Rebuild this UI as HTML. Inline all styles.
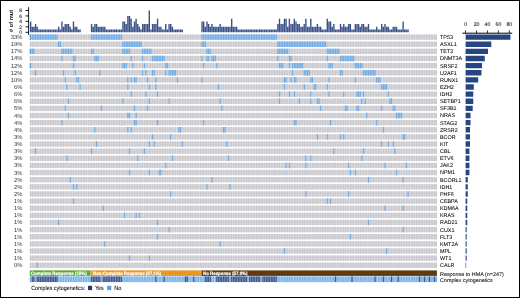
<!DOCTYPE html>
<html><head><meta charset="utf-8"><style>
html,body{margin:0;padding:0;background:#fff;}
body{width:520px;height:298px;overflow:hidden;}
svg{display:block;}
</style></head><body>
<svg width="520" height="298" viewBox="0 0 520 298" font-family="'Liberation Sans', Arial, sans-serif" text-rendering="geometricPrecision">
<rect x="0" y="0" width="520" height="298" fill="#fff"/>
<path d="M29.93 32.3h1.39v-10.92h-1.39zM31.58 32.3h1.39v-5.46h-1.39zM33.23 32.3h1.39v-5.46h-1.39zM34.87 32.3h1.39v-8.19h-1.39zM36.52 32.3h1.39v-5.46h-1.39zM38.17 32.3h1.39v-2.73h-1.39zM39.82 32.3h1.39v-2.73h-1.39zM41.47 32.3h1.39v-2.73h-1.39zM43.12 32.3h1.39v-2.73h-1.39zM44.76 32.3h1.39v-2.73h-1.39zM46.41 32.3h1.39v-2.73h-1.39zM48.06 32.3h1.39v-2.73h-1.39zM49.71 32.3h1.39v-2.73h-1.39zM51.36 32.3h1.39v-2.73h-1.39zM53 32.3h1.39v-2.73h-1.39zM54.65 32.3h1.39v-2.73h-1.39zM56.3 32.3h1.39v-2.73h-1.39zM57.95 32.3h1.39v-5.46h-1.39zM59.6 32.3h1.39v-2.73h-1.39zM61.25 32.3h1.39v-10.92h-1.39zM62.89 32.3h1.39v-5.46h-1.39zM64.54 32.3h1.39v-8.19h-1.39zM66.19 32.3h1.39v-8.19h-1.39zM67.84 32.3h1.39v-8.19h-1.39zM69.49 32.3h1.39v-5.46h-1.39zM71.13 32.3h1.39v-2.73h-1.39zM72.78 32.3h1.39v-10.92h-1.39zM74.43 32.3h1.39v-5.46h-1.39zM76.08 32.3h1.39v-5.46h-1.39zM77.73 32.3h1.39v-2.73h-1.39zM79.38 32.3h1.39v-2.73h-1.39zM90.91 32.3h1.39v-8.19h-1.39zM92.56 32.3h1.39v-5.46h-1.39zM94.21 32.3h1.39v-8.19h-1.39zM95.86 32.3h1.39v-8.19h-1.39zM97.51 32.3h1.39v-5.46h-1.39zM99.15 32.3h1.39v-5.46h-1.39zM100.8 32.3h1.39v-5.46h-1.39zM102.45 32.3h1.39v-5.46h-1.39zM104.1 32.3h1.39v-5.46h-1.39zM105.75 32.3h1.39v-2.73h-1.39zM107.39 32.3h1.39v-2.73h-1.39zM109.04 32.3h1.39v-2.73h-1.39zM110.69 32.3h1.39v-2.73h-1.39zM112.34 32.3h1.39v-2.73h-1.39zM113.99 32.3h1.39v-2.73h-1.39zM115.64 32.3h1.39v-2.73h-1.39zM117.28 32.3h1.39v-2.73h-1.39zM118.93 32.3h1.39v-2.73h-1.39zM120.58 32.3h1.39v-2.73h-1.39zM122.23 32.3h1.39v-10.92h-1.39zM123.88 32.3h1.39v-10.92h-1.39zM125.52 32.3h1.39v-8.19h-1.39zM127.17 32.3h1.39v-16.38h-1.39zM128.82 32.3h1.39v-16.38h-1.39zM130.47 32.3h1.39v-13.65h-1.39zM132.12 32.3h1.39v-5.46h-1.39zM133.77 32.3h1.39v-10.92h-1.39zM135.41 32.3h1.39v-13.65h-1.39zM137.06 32.3h1.39v-8.19h-1.39zM138.71 32.3h1.39v-5.46h-1.39zM140.36 32.3h1.39v-2.73h-1.39zM142.01 32.3h1.39v-8.19h-1.39zM143.65 32.3h1.39v-8.19h-1.39zM145.3 32.3h1.39v-8.19h-1.39zM146.95 32.3h1.39v-8.19h-1.39zM148.6 32.3h1.39v-21.84h-1.39zM150.25 32.3h1.39v-2.73h-1.39zM151.9 32.3h1.39v-8.19h-1.39zM153.54 32.3h1.39v-8.19h-1.39zM155.19 32.3h1.39v-8.19h-1.39zM156.84 32.3h1.39v-13.65h-1.39zM158.49 32.3h1.39v-5.46h-1.39zM160.14 32.3h1.39v-5.46h-1.39zM161.78 32.3h1.39v-2.73h-1.39zM163.43 32.3h1.39v-2.73h-1.39zM165.08 32.3h1.39v-8.19h-1.39zM166.73 32.3h1.39v-2.73h-1.39zM168.38 32.3h1.39v-8.19h-1.39zM170.03 32.3h1.39v-8.19h-1.39zM171.67 32.3h1.39v-5.46h-1.39zM173.32 32.3h1.39v-2.73h-1.39zM174.97 32.3h1.39v-2.73h-1.39zM176.62 32.3h1.39v-2.73h-1.39zM178.27 32.3h1.39v-2.73h-1.39zM179.91 32.3h1.39v-2.73h-1.39zM181.56 32.3h1.39v-2.73h-1.39zM201.34 32.3h1.39v-10.92h-1.39zM202.99 32.3h1.39v-10.92h-1.39zM204.64 32.3h1.39v-5.46h-1.39zM206.29 32.3h1.39v-10.92h-1.39zM207.93 32.3h1.39v-8.19h-1.39zM209.58 32.3h1.39v-5.46h-1.39zM211.23 32.3h1.39v-8.19h-1.39zM212.88 32.3h1.39v-5.46h-1.39zM214.53 32.3h1.39v-5.46h-1.39zM216.17 32.3h1.39v-5.46h-1.39zM217.82 32.3h1.39v-5.46h-1.39zM219.47 32.3h1.39v-8.19h-1.39zM221.12 32.3h1.39v-5.46h-1.39zM222.77 32.3h1.39v-5.46h-1.39zM224.42 32.3h1.39v-5.46h-1.39zM226.06 32.3h1.39v-5.46h-1.39zM227.71 32.3h1.39v-5.46h-1.39zM229.36 32.3h1.39v-5.46h-1.39zM231.01 32.3h1.39v-13.65h-1.39zM232.66 32.3h1.39v-5.46h-1.39zM234.3 32.3h1.39v-5.46h-1.39zM235.95 32.3h1.39v-5.46h-1.39zM237.6 32.3h1.39v-2.73h-1.39zM239.25 32.3h1.39v-2.73h-1.39zM240.9 32.3h1.39v-2.73h-1.39zM242.54 32.3h1.39v-2.73h-1.39zM244.19 32.3h1.39v-2.73h-1.39zM245.84 32.3h1.39v-2.73h-1.39zM247.49 32.3h1.39v-2.73h-1.39zM249.14 32.3h1.39v-2.73h-1.39zM250.79 32.3h1.39v-2.73h-1.39zM252.43 32.3h1.39v-2.73h-1.39zM254.08 32.3h1.39v-2.73h-1.39zM255.73 32.3h1.39v-2.73h-1.39zM257.38 32.3h1.39v-2.73h-1.39zM259.03 32.3h1.39v-2.73h-1.39zM260.67 32.3h1.39v-2.73h-1.39zM262.32 32.3h1.39v-2.73h-1.39zM263.97 32.3h1.39v-2.73h-1.39zM265.62 32.3h1.39v-2.73h-1.39zM267.27 32.3h1.39v-2.73h-1.39zM268.92 32.3h1.39v-2.73h-1.39zM270.56 32.3h1.39v-2.73h-1.39zM272.21 32.3h1.39v-2.73h-1.39zM273.86 32.3h1.39v-2.73h-1.39zM275.51 32.3h1.39v-2.73h-1.39zM277.16 32.3h1.39v-8.19h-1.39zM278.8 32.3h1.39v-13.65h-1.39zM280.45 32.3h1.39v-8.19h-1.39zM282.1 32.3h1.39v-8.19h-1.39zM283.75 32.3h1.39v-13.65h-1.39zM285.4 32.3h1.39v-13.65h-1.39zM287.05 32.3h1.39v-5.46h-1.39zM288.69 32.3h1.39v-13.65h-1.39zM290.34 32.3h1.39v-8.19h-1.39zM291.99 32.3h1.39v-8.19h-1.39zM293.64 32.3h1.39v-13.65h-1.39zM295.29 32.3h1.39v-10.92h-1.39zM296.93 32.3h1.39v-8.19h-1.39zM298.58 32.3h1.39v-8.19h-1.39zM300.23 32.3h1.39v-5.46h-1.39zM301.88 32.3h1.39v-5.46h-1.39zM303.53 32.3h1.39v-8.19h-1.39zM305.18 32.3h1.39v-13.65h-1.39zM306.82 32.3h1.39v-5.46h-1.39zM308.47 32.3h1.39v-5.46h-1.39zM310.12 32.3h1.39v-13.65h-1.39zM311.77 32.3h1.39v-5.46h-1.39zM313.42 32.3h1.39v-5.46h-1.39zM315.06 32.3h1.39v-5.46h-1.39zM316.71 32.3h1.39v-8.19h-1.39zM318.36 32.3h1.39v-5.46h-1.39zM320.01 32.3h1.39v-5.46h-1.39zM321.66 32.3h1.39v-2.73h-1.39zM323.31 32.3h1.39v-2.73h-1.39zM324.95 32.3h1.39v-2.73h-1.39zM326.6 32.3h1.39v-13.65h-1.39zM328.25 32.3h1.39v-10.92h-1.39zM329.9 32.3h1.39v-10.92h-1.39zM331.55 32.3h1.39v-5.46h-1.39zM333.19 32.3h1.39v-8.19h-1.39zM334.84 32.3h1.39v-2.73h-1.39zM336.49 32.3h1.39v-2.73h-1.39zM338.14 32.3h1.39v-2.73h-1.39zM339.79 32.3h1.39v-8.19h-1.39zM341.44 32.3h1.39v-5.46h-1.39zM343.08 32.3h1.39v-8.19h-1.39zM344.73 32.3h1.39v-5.46h-1.39zM346.38 32.3h1.39v-5.46h-1.39zM348.03 32.3h1.39v-8.19h-1.39zM349.68 32.3h1.39v-8.19h-1.39zM351.32 32.3h1.39v-2.73h-1.39zM352.97 32.3h1.39v-2.73h-1.39zM354.62 32.3h1.39v-8.19h-1.39zM356.27 32.3h1.39v-8.19h-1.39zM357.92 32.3h1.39v-8.19h-1.39zM359.57 32.3h1.39v-5.46h-1.39zM361.21 32.3h1.39v-8.19h-1.39zM362.86 32.3h1.39v-8.19h-1.39zM364.51 32.3h1.39v-5.46h-1.39zM366.16 32.3h1.39v-5.46h-1.39zM367.81 32.3h1.39v-8.19h-1.39zM369.45 32.3h1.39v-2.73h-1.39zM371.1 32.3h1.39v-2.73h-1.39zM372.75 32.3h1.39v-2.73h-1.39zM374.4 32.3h1.39v-2.73h-1.39zM376.05 32.3h1.39v-5.46h-1.39zM377.7 32.3h1.39v-2.73h-1.39zM379.34 32.3h1.39v-2.73h-1.39zM380.99 32.3h1.39v-8.19h-1.39zM382.64 32.3h1.39v-5.46h-1.39zM384.29 32.3h1.39v-8.19h-1.39zM385.94 32.3h1.39v-5.46h-1.39zM387.58 32.3h1.39v-5.46h-1.39zM389.23 32.3h1.39v-2.73h-1.39zM390.88 32.3h1.39v-2.73h-1.39zM392.53 32.3h1.39v-5.46h-1.39zM394.18 32.3h1.39v-5.46h-1.39zM395.83 32.3h1.39v-5.46h-1.39zM397.47 32.3h1.39v-2.73h-1.39zM399.12 32.3h1.39v-2.73h-1.39zM400.77 32.3h1.39v-2.73h-1.39zM402.42 32.3h1.39v-10.92h-1.39zM404.07 32.3h1.39v-2.73h-1.39zM405.71 32.3h1.39v-2.73h-1.39zM407.36 32.3h1.39v-2.73h-1.39z" fill="#3a5287"/>
<path d="M28.6 7.2V35M25.5 32.3H28.6M25.5 26.84H28.6M25.5 21.38H28.6M25.5 15.92H28.6M25.5 10.46H28.6" stroke="#000" stroke-width="0.9" fill="none"/>
<text x="22" y="34.1" font-size="5" text-anchor="end" fill="#000" stroke="#000" stroke-width="0.05">0</text>
<text x="22" y="28.64" font-size="5" text-anchor="end" fill="#000" stroke="#000" stroke-width="0.05">2</text>
<text x="22" y="23.18" font-size="5" text-anchor="end" fill="#000" stroke="#000" stroke-width="0.05">4</text>
<text x="22" y="17.72" font-size="5" text-anchor="end" fill="#000" stroke="#000" stroke-width="0.05">6</text>
<text x="22" y="12.26" font-size="5" text-anchor="end" fill="#000" stroke="#000" stroke-width="0.05">8</text>
<text x="0" y="0" transform="translate(13.3 21) rotate(-90)" font-size="5.7" font-weight="bold" text-anchor="middle" fill="#222"># of mut</text>
<rect x="29.8" y="34.4" width="407.1" height="5.4" fill="#c2c1c8"/>
<rect x="29.8" y="41.53" width="407.1" height="5.4" fill="#c2c1c8"/>
<rect x="29.8" y="48.66" width="407.1" height="5.4" fill="#c2c1c8"/>
<rect x="29.8" y="55.79" width="407.1" height="5.4" fill="#c2c1c8"/>
<rect x="29.8" y="62.92" width="407.1" height="5.4" fill="#c2c1c8"/>
<rect x="29.8" y="70.05" width="407.1" height="5.4" fill="#c2c1c8"/>
<rect x="29.8" y="77.18" width="407.1" height="5.4" fill="#c2c1c8"/>
<rect x="29.8" y="84.31" width="407.1" height="5.4" fill="#c2c1c8"/>
<rect x="29.8" y="91.44" width="407.1" height="5.4" fill="#c2c1c8"/>
<rect x="29.8" y="98.57" width="407.1" height="5.4" fill="#c2c1c8"/>
<rect x="29.8" y="105.7" width="407.1" height="5.4" fill="#c2c1c8"/>
<rect x="29.8" y="112.83" width="407.1" height="5.4" fill="#c2c1c8"/>
<rect x="29.8" y="119.96" width="407.1" height="5.4" fill="#c2c1c8"/>
<rect x="29.8" y="127.09" width="407.1" height="5.4" fill="#c2c1c8"/>
<rect x="29.8" y="134.22" width="407.1" height="5.4" fill="#c2c1c8"/>
<rect x="29.8" y="141.35" width="407.1" height="5.4" fill="#c2c1c8"/>
<rect x="29.8" y="148.48" width="407.1" height="5.4" fill="#c2c1c8"/>
<rect x="29.8" y="155.61" width="407.1" height="5.4" fill="#c2c1c8"/>
<rect x="29.8" y="162.74" width="407.1" height="5.4" fill="#c2c1c8"/>
<rect x="29.8" y="169.87" width="407.1" height="5.4" fill="#c2c1c8"/>
<rect x="29.8" y="177" width="407.1" height="5.4" fill="#c2c1c8"/>
<rect x="29.8" y="184.13" width="407.1" height="5.4" fill="#c2c1c8"/>
<rect x="29.8" y="191.26" width="407.1" height="5.4" fill="#c2c1c8"/>
<rect x="29.8" y="198.39" width="407.1" height="5.4" fill="#c2c1c8"/>
<rect x="29.8" y="205.52" width="407.1" height="5.4" fill="#c2c1c8"/>
<rect x="29.8" y="212.65" width="407.1" height="5.4" fill="#c2c1c8"/>
<rect x="29.8" y="219.78" width="407.1" height="5.4" fill="#c2c1c8"/>
<rect x="29.8" y="226.91" width="407.1" height="5.4" fill="#c2c1c8"/>
<rect x="29.8" y="234.04" width="407.1" height="5.4" fill="#c2c1c8"/>
<rect x="29.8" y="241.17" width="407.1" height="5.4" fill="#c2c1c8"/>
<rect x="29.8" y="248.3" width="407.1" height="5.4" fill="#c2c1c8"/>
<rect x="29.8" y="255.43" width="407.1" height="5.4" fill="#c2c1c8"/>
<rect x="29.8" y="262.56" width="407.1" height="5.4" fill="#c2c1c8"/>
<path d="M29.8 34.4h28.02v5.4h-28.02zM90.78 34.4h31.32v5.4h-31.32zM201.21 34.4h75.82v5.4h-75.82zM57.82 41.53h3.3v5.4h-3.3zM122.1 41.53h19.78v5.4h-19.78zM201.21 41.53h4.94v5.4h-4.94zM277.03 41.53h49.45v5.4h-49.45zM29.8 48.66h4.94v5.4h-4.94zM61.12 48.66h11.54v5.4h-11.54zM90.78 48.66h3.3v5.4h-3.3zM122.1 48.66h8.24v5.4h-8.24zM141.88 48.66h9.89v5.4h-9.89zM206.16 48.66h4.94v5.4h-4.94zM277.03 48.66h11.54v5.4h-11.54zM326.47 48.66h13.19v5.4h-13.19zM61.12 55.79h1.65v5.4h-1.65zM72.65 55.79h3.3v5.4h-3.3zM94.08 55.79h4.94v5.4h-4.94zM130.34 55.79h1.65v5.4h-1.65zM141.88 55.79h1.65v5.4h-1.65zM151.77 55.79h13.19v5.4h-13.19zM201.21 55.79h1.65v5.4h-1.65zM206.16 55.79h3.3v5.4h-3.3zM211.1 55.79h4.94v5.4h-4.94zM277.03 55.79h1.65v5.4h-1.65zM288.56 55.79h3.3v5.4h-3.3zM326.47 55.79h1.65v5.4h-1.65zM339.66 55.79h14.83v5.4h-14.83zM29.8 62.92h1.65v5.4h-1.65zM72.65 62.92h1.65v5.4h-1.65zM122.1 62.92h4.94v5.4h-4.94zM131.99 62.92h1.65v5.4h-1.65zM143.52 62.92h1.65v5.4h-1.65zM164.95 62.92h3.3v5.4h-3.3zM202.86 62.92h1.65v5.4h-1.65zM216.04 62.92h1.65v5.4h-1.65zM278.67 62.92h4.94v5.4h-4.94zM288.56 62.92h1.65v5.4h-1.65zM291.86 62.92h11.54v5.4h-11.54zM328.12 62.92h4.94v5.4h-4.94zM354.49 62.92h8.24v5.4h-8.24zM34.74 70.05h1.65v5.4h-1.65zM62.76 70.05h1.65v5.4h-1.65zM74.3 70.05h1.65v5.4h-1.65zM99.02 70.05h1.65v5.4h-1.65zM141.88 70.05h1.65v5.4h-1.65zM145.17 70.05h1.65v5.4h-1.65zM151.77 70.05h3.3v5.4h-3.3zM164.95 70.05h1.65v5.4h-1.65zM168.25 70.05h8.24v5.4h-8.24zM291.86 70.05h1.65v5.4h-1.65zM303.4 70.05h6.59v5.4h-6.59zM339.66 70.05h3.3v5.4h-3.3zM362.73 70.05h13.19v5.4h-13.19zM64.41 77.18h1.65v5.4h-1.65zM75.95 77.18h3.3v5.4h-3.3zM127.04 77.18h1.65v5.4h-1.65zM130.34 77.18h1.65v5.4h-1.65zM133.64 77.18h3.3v5.4h-3.3zM146.82 77.18h1.65v5.4h-1.65zM155.06 77.18h1.65v5.4h-1.65zM176.49 77.18h1.65v5.4h-1.65zM201.21 77.18h1.65v5.4h-1.65zM283.62 77.18h3.3v5.4h-3.3zM290.21 77.18h1.65v5.4h-1.65zM293.51 77.18h3.3v5.4h-3.3zM309.99 77.18h3.3v5.4h-3.3zM328.12 77.18h1.65v5.4h-1.65zM354.49 77.18h1.65v5.4h-1.65zM375.92 77.18h4.94v5.4h-4.94zM66.06 84.31h1.65v5.4h-1.65zM79.25 84.31h1.65v5.4h-1.65zM127.04 84.31h1.65v5.4h-1.65zM148.47 84.31h1.65v5.4h-1.65zM155.06 84.31h1.65v5.4h-1.65zM217.69 84.31h1.65v5.4h-1.65zM283.62 84.31h1.65v5.4h-1.65zM303.4 84.31h1.65v5.4h-1.65zM313.29 84.31h3.3v5.4h-3.3zM326.47 84.31h1.65v5.4h-1.65zM380.86 84.31h6.59v5.4h-6.59zM130.34 91.44h1.65v5.4h-1.65zM145.17 91.44h1.65v5.4h-1.65zM156.71 91.44h1.65v5.4h-1.65zM278.67 91.44h1.65v5.4h-1.65zM288.56 91.44h1.65v5.4h-1.65zM293.51 91.44h1.65v5.4h-1.65zM309.99 91.44h1.65v5.4h-1.65zM328.12 91.44h1.65v5.4h-1.65zM342.95 91.44h1.65v5.4h-1.65zM356.14 91.44h4.94v5.4h-4.94zM362.73 91.44h1.65v5.4h-1.65zM387.45 91.44h1.65v5.4h-1.65zM67.71 98.57h1.65v5.4h-1.65zM122.1 98.57h1.65v5.4h-1.65zM148.47 98.57h1.65v5.4h-1.65zM168.25 98.57h1.65v5.4h-1.65zM219.34 98.57h1.65v5.4h-1.65zM278.67 98.57h1.65v5.4h-1.65zM298.45 98.57h1.65v5.4h-1.65zM309.99 98.57h1.65v5.4h-1.65zM316.58 98.57h3.3v5.4h-3.3zM361.08 98.57h1.65v5.4h-1.65zM364.38 98.57h1.65v5.4h-1.65zM389.1 98.57h3.3v5.4h-3.3zM64.41 105.7h1.65v5.4h-1.65zM100.67 105.7h1.65v5.4h-1.65zM133.64 105.7h1.65v5.4h-1.65zM146.82 105.7h1.65v5.4h-1.65zM220.99 105.7h1.65v5.4h-1.65zM319.88 105.7h1.65v5.4h-1.65zM344.6 105.7h3.3v5.4h-3.3zM356.14 105.7h3.3v5.4h-3.3zM380.86 105.7h1.65v5.4h-1.65zM392.4 105.7h3.3v5.4h-3.3zM67.71 112.83h1.65v5.4h-1.65zM127.04 112.83h3.3v5.4h-3.3zM135.28 112.83h1.65v5.4h-1.65zM366.03 112.83h1.65v5.4h-1.65zM395.7 112.83h6.59v5.4h-6.59zM61.12 119.96h1.65v5.4h-1.65zM133.64 119.96h3.3v5.4h-3.3zM156.71 119.96h1.65v5.4h-1.65zM202.86 119.96h1.65v5.4h-1.65zM293.51 119.96h3.3v5.4h-3.3zM329.77 119.96h1.65v5.4h-1.65zM375.92 119.96h1.65v5.4h-1.65zM94.08 127.09h1.65v5.4h-1.65zM127.04 127.09h1.65v5.4h-1.65zM130.34 127.09h1.65v5.4h-1.65zM178.14 127.09h3.3v5.4h-3.3zM222.64 127.09h3.3v5.4h-3.3zM382.51 127.09h1.65v5.4h-1.65zM151.77 134.22h1.65v5.4h-1.65zM169.9 134.22h1.65v5.4h-1.65zM316.58 134.22h1.65v5.4h-1.65zM326.47 134.22h1.65v5.4h-1.65zM339.66 134.22h1.65v5.4h-1.65zM342.95 134.22h1.65v5.4h-1.65zM402.29 134.22h3.3v5.4h-3.3zM95.73 141.35h1.65v5.4h-1.65zM148.47 141.35h1.65v5.4h-1.65zM153.41 141.35h1.65v5.4h-1.65zM181.43 141.35h1.65v5.4h-1.65zM225.93 141.35h1.65v5.4h-1.65zM380.86 141.35h1.65v5.4h-1.65zM387.45 141.35h1.65v5.4h-1.65zM392.4 141.35h1.65v5.4h-1.65zM34.74 148.48h1.65v5.4h-1.65zM90.78 148.48h1.65v5.4h-1.65zM128.69 148.48h1.65v5.4h-1.65zM143.52 148.48h1.65v5.4h-1.65zM333.06 148.48h1.65v5.4h-1.65zM362.73 148.48h1.65v5.4h-1.65zM394.05 148.48h1.65v5.4h-1.65zM66.06 155.61h1.65v5.4h-1.65zM136.93 155.61h1.65v5.4h-1.65zM171.54 155.61h1.65v5.4h-1.65zM227.58 155.61h1.65v5.4h-1.65zM305.05 155.61h1.65v5.4h-1.65zM309.99 155.61h1.65v5.4h-1.65zM361.08 155.61h1.65v5.4h-1.65zM164.95 162.74h1.65v5.4h-1.65zM285.27 162.74h1.65v5.4h-1.65zM288.56 162.74h1.65v5.4h-1.65zM305.05 162.74h1.65v5.4h-1.65zM347.9 162.74h1.65v5.4h-1.65zM384.16 162.74h1.65v5.4h-1.65zM405.58 162.74h1.65v5.4h-1.65zM128.69 169.87h1.65v5.4h-1.65zM148.47 169.87h1.65v5.4h-1.65zM158.36 169.87h3.3v5.4h-3.3zM349.55 169.87h1.65v5.4h-1.65zM354.49 169.87h1.65v5.4h-1.65zM395.7 169.87h1.65v5.4h-1.65zM69.36 177h1.65v5.4h-1.65zM211.1 177h1.65v5.4h-1.65zM367.68 177h1.65v5.4h-1.65zM402.29 177h1.65v5.4h-1.65zM72.65 184.13h1.65v5.4h-1.65zM75.95 184.13h1.65v5.4h-1.65zM206.16 184.13h1.65v5.4h-1.65zM229.23 184.13h1.65v5.4h-1.65zM169.9 191.26h1.65v5.4h-1.65zM305.05 191.26h1.65v5.4h-1.65zM347.9 191.26h1.65v5.4h-1.65zM407.23 191.26h1.65v5.4h-1.65zM72.65 198.39h1.65v5.4h-1.65zM326.47 198.39h1.65v5.4h-1.65zM329.77 198.39h1.65v5.4h-1.65zM102.32 205.52h1.65v5.4h-1.65zM384.16 205.52h1.65v5.4h-1.65zM402.29 205.52h1.65v5.4h-1.65zM123.75 212.65h1.65v5.4h-1.65zM135.28 212.65h1.65v5.4h-1.65zM138.58 212.65h1.65v5.4h-1.65zM57.82 219.78h1.65v5.4h-1.65zM156.71 219.78h1.65v5.4h-1.65zM367.68 219.78h1.65v5.4h-1.65zM168.25 226.91h1.65v5.4h-1.65zM402.29 226.91h1.65v5.4h-1.65zM156.71 234.04h1.65v5.4h-1.65zM349.55 234.04h1.65v5.4h-1.65zM103.97 241.17h1.65v5.4h-1.65zM219.34 241.17h1.65v5.4h-1.65zM283.62 248.3h1.65v5.4h-1.65zM385.81 248.3h1.65v5.4h-1.65zM128.69 255.43h1.65v5.4h-1.65zM148.47 255.43h1.65v5.4h-1.65zM36.39 262.56h1.65v5.4h-1.65z" fill="#5c9fe0"/>
<rect x="29.8" y="276.4" width="407.1" height="5.7" fill="#66a8e6"/>
<path d="M31.45 276.4h3.3v5.7h-3.3zM36.39 276.4h21.43v5.7h-21.43zM90.78 276.4h9.89v5.7h-9.89zM102.32 276.4h19.78v5.7h-19.78zM155.06 276.4h1.65v5.7h-1.65zM163.3 276.4h1.65v5.7h-1.65zM184.73 276.4h3.3v5.7h-3.3zM192.97 276.4h1.65v5.7h-1.65zM204.51 276.4h6.59v5.7h-6.59zM216.04 276.4h13.19v5.7h-13.19zM230.88 276.4h16.48v5.7h-16.48zM249.01 276.4h11.54v5.7h-11.54zM262.19 276.4h14.83v5.7h-14.83zM334.71 276.4h1.65v5.7h-1.65zM351.19 276.4h1.65v5.7h-1.65zM374.27 276.4h1.65v5.7h-1.65zM382.51 276.4h1.65v5.7h-1.65zM390.75 276.4h1.65v5.7h-1.65zM397.34 276.4h1.65v5.7h-1.65zM418.77 276.4h1.65v5.7h-1.65zM423.71 276.4h1.65v5.7h-1.65zM428.66 276.4h1.65v5.7h-1.65zM433.6 276.4h1.65v5.7h-1.65z" fill="#233f7a"/>
<path d="M31.45 34V282.1M33.1 34V282.1M34.74 34V282.1M36.39 34V282.1M38.04 34V282.1M39.69 34V282.1M41.34 34V282.1M42.99 34V282.1M44.63 34V282.1M46.28 34V282.1M47.93 34V282.1M49.58 34V282.1M51.23 34V282.1M52.87 34V282.1M54.52 34V282.1M56.17 34V282.1M57.82 34V282.1M59.47 34V282.1M61.12 34V282.1M62.76 34V282.1M64.41 34V282.1M66.06 34V282.1M67.71 34V282.1M69.36 34V282.1M71 34V282.1M72.65 34V282.1M74.3 34V282.1M75.95 34V282.1M77.6 34V282.1M79.25 34V282.1M80.89 34V282.1M82.54 34V282.1M84.19 34V282.1M85.84 34V282.1M87.49 34V282.1M89.13 34V282.1M90.78 34V282.1M92.43 34V282.1M94.08 34V282.1M95.73 34V282.1M97.38 34V282.1M99.02 34V282.1M100.67 34V282.1M102.32 34V282.1M103.97 34V282.1M105.62 34V282.1M107.26 34V282.1M108.91 34V282.1M110.56 34V282.1M112.21 34V282.1M113.86 34V282.1M115.51 34V282.1M117.15 34V282.1M118.8 34V282.1M120.45 34V282.1M122.1 34V282.1M123.75 34V282.1M125.39 34V282.1M127.04 34V282.1M128.69 34V282.1M130.34 34V282.1M131.99 34V282.1M133.64 34V282.1M135.28 34V282.1M136.93 34V282.1M138.58 34V282.1M140.23 34V282.1M141.88 34V282.1M143.52 34V282.1M145.17 34V282.1M146.82 34V282.1M148.47 34V282.1M150.12 34V282.1M151.77 34V282.1M153.41 34V282.1M155.06 34V282.1M156.71 34V282.1M158.36 34V282.1M160.01 34V282.1M161.65 34V282.1M163.3 34V282.1M164.95 34V282.1M166.6 34V282.1M168.25 34V282.1M169.9 34V282.1M171.54 34V282.1M173.19 34V282.1M174.84 34V282.1M176.49 34V282.1M178.14 34V282.1M179.78 34V282.1M181.43 34V282.1M183.08 34V282.1M184.73 34V282.1M186.38 34V282.1M188.03 34V282.1M189.67 34V282.1M191.32 34V282.1M192.97 34V282.1M194.62 34V282.1M196.27 34V282.1M197.91 34V282.1M199.56 34V282.1M201.21 34V282.1M202.86 34V282.1M204.51 34V282.1M206.16 34V282.1M207.8 34V282.1M209.45 34V282.1M211.1 34V282.1M212.75 34V282.1M214.4 34V282.1M216.04 34V282.1M217.69 34V282.1M219.34 34V282.1M220.99 34V282.1M222.64 34V282.1M224.29 34V282.1M225.93 34V282.1M227.58 34V282.1M229.23 34V282.1M230.88 34V282.1M232.53 34V282.1M234.17 34V282.1M235.82 34V282.1M237.47 34V282.1M239.12 34V282.1M240.77 34V282.1M242.41 34V282.1M244.06 34V282.1M245.71 34V282.1M247.36 34V282.1M249.01 34V282.1M250.66 34V282.1M252.3 34V282.1M253.95 34V282.1M255.6 34V282.1M257.25 34V282.1M258.9 34V282.1M260.54 34V282.1M262.19 34V282.1M263.84 34V282.1M265.49 34V282.1M267.14 34V282.1M268.79 34V282.1M270.43 34V282.1M272.08 34V282.1M273.73 34V282.1M275.38 34V282.1M277.03 34V282.1M278.67 34V282.1M280.32 34V282.1M281.97 34V282.1M283.62 34V282.1M285.27 34V282.1M286.92 34V282.1M288.56 34V282.1M290.21 34V282.1M291.86 34V282.1M293.51 34V282.1M295.16 34V282.1M296.8 34V282.1M298.45 34V282.1M300.1 34V282.1M301.75 34V282.1M303.4 34V282.1M305.05 34V282.1M306.69 34V282.1M308.34 34V282.1M309.99 34V282.1M311.64 34V282.1M313.29 34V282.1M314.93 34V282.1M316.58 34V282.1M318.23 34V282.1M319.88 34V282.1M321.53 34V282.1M323.18 34V282.1M324.82 34V282.1M326.47 34V282.1M328.12 34V282.1M329.77 34V282.1M331.42 34V282.1M333.06 34V282.1M334.71 34V282.1M336.36 34V282.1M338.01 34V282.1M339.66 34V282.1M341.31 34V282.1M342.95 34V282.1M344.6 34V282.1M346.25 34V282.1M347.9 34V282.1M349.55 34V282.1M351.19 34V282.1M352.84 34V282.1M354.49 34V282.1M356.14 34V282.1M357.79 34V282.1M359.44 34V282.1M361.08 34V282.1M362.73 34V282.1M364.38 34V282.1M366.03 34V282.1M367.68 34V282.1M369.32 34V282.1M370.97 34V282.1M372.62 34V282.1M374.27 34V282.1M375.92 34V282.1M377.57 34V282.1M379.21 34V282.1M380.86 34V282.1M382.51 34V282.1M384.16 34V282.1M385.81 34V282.1M387.45 34V282.1M389.1 34V282.1M390.75 34V282.1M392.4 34V282.1M394.05 34V282.1M395.7 34V282.1M397.34 34V282.1M398.99 34V282.1M400.64 34V282.1M402.29 34V282.1M403.94 34V282.1M405.58 34V282.1M407.23 34V282.1M408.88 34V282.1M410.53 34V282.1M412.18 34V282.1M413.83 34V282.1M415.47 34V282.1M417.12 34V282.1M418.77 34V282.1M420.42 34V282.1M422.07 34V282.1M423.71 34V282.1M425.36 34V282.1M427.01 34V282.1M428.66 34V282.1M430.31 34V282.1M431.96 34V282.1M433.6 34V282.1M435.25 34V282.1" stroke="#fff" stroke-width="0.42"/>
<rect x="29.8" y="270.4" width="60.98" height="5.5" fill="#5aaa32"/>
<rect x="90.78" y="270.4" width="110.43" height="5.5" fill="#e8961e"/>
<rect x="201.21" y="270.4" width="235.69" height="5.5" fill="#5f3c0f"/>
<path d="M90.78 270.4v5.5M201.21 270.4v5.5" stroke="#fff" stroke-opacity="0.6" stroke-width="0.5"/>
<text x="30.8" y="274.8" font-size="4.8" font-weight="bold" textLength="56" lengthAdjust="spacingAndGlyphs" fill="#fff" stroke="#fff" stroke-width="0.18">Complete Response (15%)</text>
<text x="93" y="274.8" font-size="4.8" font-weight="bold" textLength="68" lengthAdjust="spacingAndGlyphs" fill="#fff" stroke="#fff" stroke-width="0.18">Non-Complete Response (27.1%)</text>
<text x="203.1" y="274.8" font-size="4.8" font-weight="bold" textLength="44.3" lengthAdjust="spacingAndGlyphs" fill="#fff" stroke="#fff" stroke-width="0.18">No Response (57.9%)</text>
<text x="22.3" y="39.1" font-size="5.8" text-anchor="end" fill="#333">33%</text>
<text x="440" y="39" font-size="5.4" fill="#000" stroke="#000" stroke-width="0.05">TP53</text>
<text x="22.3" y="46.23" font-size="5.8" text-anchor="end" fill="#333">19%</text>
<text x="440" y="46.13" font-size="5.4" fill="#000" stroke="#000" stroke-width="0.05">ASXL1</text>
<text x="22.3" y="53.36" font-size="5.8" text-anchor="end" fill="#333">17%</text>
<text x="440" y="53.26" font-size="5.4" fill="#000" stroke="#000" stroke-width="0.05">TET2</text>
<text x="22.3" y="60.49" font-size="5.8" text-anchor="end" fill="#333">14%</text>
<text x="440" y="60.39" font-size="5.4" fill="#000" stroke="#000" stroke-width="0.05">DNMT3A</text>
<text x="22.3" y="67.62" font-size="5.8" text-anchor="end" fill="#333">12%</text>
<text x="440" y="67.52" font-size="5.4" fill="#000" stroke="#000" stroke-width="0.05">SRSF2</text>
<text x="22.3" y="74.75" font-size="5.8" text-anchor="end" fill="#333">12%</text>
<text x="440" y="74.65" font-size="5.4" fill="#000" stroke="#000" stroke-width="0.05">U2AF1</text>
<text x="22.3" y="81.88" font-size="5.8" text-anchor="end" fill="#333">10%</text>
<text x="440" y="81.78" font-size="5.4" fill="#000" stroke="#000" stroke-width="0.05">RUNX1</text>
<text x="22.3" y="89.01" font-size="5.8" text-anchor="end" fill="#333">6%</text>
<text x="440" y="88.91" font-size="5.4" fill="#000" stroke="#000" stroke-width="0.05">EZH2</text>
<text x="22.3" y="96.14" font-size="5.8" text-anchor="end" fill="#333">6%</text>
<text x="440" y="96.04" font-size="5.4" fill="#000" stroke="#000" stroke-width="0.05">IDH2</text>
<text x="22.3" y="103.27" font-size="5.8" text-anchor="end" fill="#333">6%</text>
<text x="440" y="103.17" font-size="5.4" fill="#000" stroke="#000" stroke-width="0.05">SETBP1</text>
<text x="22.3" y="110.4" font-size="5.8" text-anchor="end" fill="#333">5%</text>
<text x="440" y="110.3" font-size="5.4" fill="#000" stroke="#000" stroke-width="0.05">SF3B1</text>
<text x="22.3" y="117.53" font-size="5.8" text-anchor="end" fill="#333">4%</text>
<text x="440" y="117.43" font-size="5.4" fill="#000" stroke="#000" stroke-width="0.05">NRAS</text>
<text x="22.3" y="124.66" font-size="5.8" text-anchor="end" fill="#333">4%</text>
<text x="440" y="124.56" font-size="5.4" fill="#000" stroke="#000" stroke-width="0.05">STAG2</text>
<text x="22.3" y="131.79" font-size="5.8" text-anchor="end" fill="#333">4%</text>
<text x="440" y="131.69" font-size="5.4" fill="#000" stroke="#000" stroke-width="0.05">ZRSR2</text>
<text x="22.3" y="138.92" font-size="5.8" text-anchor="end" fill="#333">3%</text>
<text x="440" y="138.82" font-size="5.4" fill="#000" stroke="#000" stroke-width="0.05">BCOR</text>
<text x="22.3" y="146.05" font-size="5.8" text-anchor="end" fill="#333">3%</text>
<text x="440" y="145.95" font-size="5.4" fill="#000" stroke="#000" stroke-width="0.05">KIT</text>
<text x="22.3" y="153.18" font-size="5.8" text-anchor="end" fill="#333">3%</text>
<text x="440" y="153.08" font-size="5.4" fill="#000" stroke="#000" stroke-width="0.05">CBL</text>
<text x="22.3" y="160.31" font-size="5.8" text-anchor="end" fill="#333">3%</text>
<text x="440" y="160.21" font-size="5.4" fill="#000" stroke="#000" stroke-width="0.05">ETV6</text>
<text x="22.3" y="167.44" font-size="5.8" text-anchor="end" fill="#333">3%</text>
<text x="440" y="167.34" font-size="5.4" fill="#000" stroke="#000" stroke-width="0.05">JAK2</text>
<text x="22.3" y="174.57" font-size="5.8" text-anchor="end" fill="#333">3%</text>
<text x="440" y="174.47" font-size="5.4" fill="#000" stroke="#000" stroke-width="0.05">NPM1</text>
<text x="22.3" y="181.7" font-size="5.8" text-anchor="end" fill="#333">2%</text>
<text x="440" y="181.6" font-size="5.4" fill="#000" stroke="#000" stroke-width="0.05">BCORL1</text>
<text x="22.3" y="188.83" font-size="5.8" text-anchor="end" fill="#333">2%</text>
<text x="440" y="188.73" font-size="5.4" fill="#000" stroke="#000" stroke-width="0.05">IDH1</text>
<text x="22.3" y="195.96" font-size="5.8" text-anchor="end" fill="#333">2%</text>
<text x="440" y="195.86" font-size="5.4" fill="#000" stroke="#000" stroke-width="0.05">PHF6</text>
<text x="22.3" y="203.09" font-size="5.8" text-anchor="end" fill="#333">1%</text>
<text x="440" y="202.99" font-size="5.4" fill="#000" stroke="#000" stroke-width="0.05">CEBPA</text>
<text x="22.3" y="210.22" font-size="5.8" text-anchor="end" fill="#333">1%</text>
<text x="440" y="210.12" font-size="5.4" fill="#000" stroke="#000" stroke-width="0.05">KDM6A</text>
<text x="22.3" y="217.35" font-size="5.8" text-anchor="end" fill="#333">1%</text>
<text x="440" y="217.25" font-size="5.4" fill="#000" stroke="#000" stroke-width="0.05">KRAS</text>
<text x="22.3" y="224.48" font-size="5.8" text-anchor="end" fill="#333">1%</text>
<text x="440" y="224.38" font-size="5.4" fill="#000" stroke="#000" stroke-width="0.05">RAD21</text>
<text x="22.3" y="231.61" font-size="5.8" text-anchor="end" fill="#333">1%</text>
<text x="440" y="231.51" font-size="5.4" fill="#000" stroke="#000" stroke-width="0.05">CUX1</text>
<text x="22.3" y="238.74" font-size="5.8" text-anchor="end" fill="#333">1%</text>
<text x="440" y="238.64" font-size="5.4" fill="#000" stroke="#000" stroke-width="0.05">FLT3</text>
<text x="22.3" y="245.87" font-size="5.8" text-anchor="end" fill="#333">1%</text>
<text x="440" y="245.77" font-size="5.4" fill="#000" stroke="#000" stroke-width="0.05">KMT2A</text>
<text x="22.3" y="253" font-size="5.8" text-anchor="end" fill="#333">1%</text>
<text x="440" y="252.9" font-size="5.4" fill="#000" stroke="#000" stroke-width="0.05">MPL</text>
<text x="22.3" y="260.13" font-size="5.8" text-anchor="end" fill="#333">1%</text>
<text x="440" y="260.03" font-size="5.4" fill="#000" stroke="#000" stroke-width="0.05">WT1</text>
<text x="22.3" y="267.26" font-size="5.8" text-anchor="end" fill="#333">0%</text>
<text x="440" y="267.16" font-size="5.4" fill="#000" stroke="#000" stroke-width="0.05">CALR</text>
<path d="M465.6 34.4h44.85v5.4h-44.85zM465.6 41.53h25.71v5.4h-25.71zM465.6 48.66h22.43v5.4h-22.43zM465.6 55.79h19.15v5.4h-19.15zM465.6 62.92h16.41v5.4h-16.41zM465.6 70.05h15.86v5.4h-15.86zM465.6 77.18h12.58v5.4h-12.58zM465.6 84.31h8.21v5.4h-8.21zM465.6 91.44h7.66v5.4h-7.66zM465.6 98.57h7.66v5.4h-7.66zM465.6 105.7h7.11v5.4h-7.11zM465.6 112.83h4.92v5.4h-4.92zM465.6 119.96h4.92v5.4h-4.92zM465.6 127.09h4.38v5.4h-4.38zM465.6 134.22h4.38v5.4h-4.38zM465.6 141.35h4.38v5.4h-4.38zM465.6 148.48h3.83v5.4h-3.83zM465.6 155.61h3.83v5.4h-3.83zM465.6 162.74h3.83v5.4h-3.83zM465.6 169.87h3.83v5.4h-3.83zM465.6 177h2.19v5.4h-2.19zM465.6 184.13h2.19v5.4h-2.19zM465.6 191.26h2.19v5.4h-2.19zM465.6 198.39h1.64v5.4h-1.64zM465.6 205.52h1.64v5.4h-1.64zM465.6 212.65h1.64v5.4h-1.64zM465.6 219.78h1.64v5.4h-1.64zM465.6 226.91h1.09v5.4h-1.09zM465.6 234.04h1.09v5.4h-1.09zM465.6 241.17h1.09v5.4h-1.09zM465.6 248.3h1.09v5.4h-1.09zM465.6 255.43h1.09v5.4h-1.09zM465.6 262.56h0.55v5.4h-0.55z" fill="#264682"/>
<path d="M462.4 33.2H512.2" stroke="#000" stroke-width="1"/>
<text x="465.6" y="25.8" font-size="5.2" text-anchor="middle" fill="#000" stroke="#000" stroke-width="0.05">0</text>
<text x="476.54" y="25.8" font-size="5.2" text-anchor="middle" fill="#000" stroke="#000" stroke-width="0.05">20</text>
<text x="487.48" y="25.8" font-size="5.2" text-anchor="middle" fill="#000" stroke="#000" stroke-width="0.05">40</text>
<text x="498.42" y="25.8" font-size="5.2" text-anchor="middle" fill="#000" stroke="#000" stroke-width="0.05">60</text>
<text x="509.36" y="25.8" font-size="5.2" text-anchor="middle" fill="#000" stroke="#000" stroke-width="0.05">80</text>
<path d="M465.6 30.4V33.2M476.54 30.4V33.2M487.48 30.4V33.2M498.42 30.4V33.2M509.36 30.4V33.2" stroke="#000" stroke-width="0.8"/>
<text x="440" y="275.5" font-size="5.4" fill="#000" stroke="#000" stroke-width="0.05">Response to HMA (n=247)</text>
<text x="440" y="281.9" font-size="5.4" fill="#000" stroke="#000" stroke-width="0.05">Complex cytogenetics</text>
<text x="31.2" y="289.7" font-size="6" textLength="54" lengthAdjust="spacingAndGlyphs" fill="#000" stroke="#000" stroke-width="0.05">Complex cytogenetics:</text>
<rect x="88" y="285.8" width="4.1" height="4.3" fill="#1f3a75"/>
<text x="95.3" y="289.7" font-size="6" textLength="8.4" lengthAdjust="spacingAndGlyphs" fill="#000" stroke="#000" stroke-width="0.05">Yes</text>
<rect x="107.1" y="285.8" width="4.2" height="4.3" fill="#5aa0e0"/>
<text x="114.2" y="289.7" font-size="6" textLength="7.3" lengthAdjust="spacingAndGlyphs" fill="#000" stroke="#000" stroke-width="0.05">No</text>
<rect x="0.5" y="0.5" width="519" height="297" fill="none" stroke="#000" stroke-width="1"/>
</svg>
</body></html>
